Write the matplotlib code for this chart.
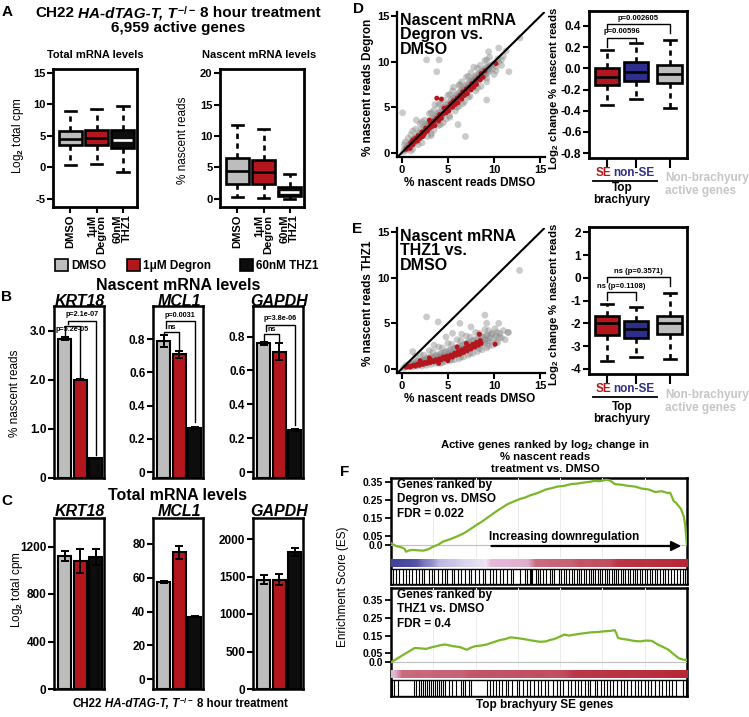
import numpy as np
import matplotlib
matplotlib.use('Agg')
import matplotlib.pyplot as plt
from matplotlib.patches import Rectangle
from matplotlib.lines import Line2D
from matplotlib.colors import LinearSegmentedColormap
from matplotlib.offsetbox import TextArea, HPacker, AnnotationBbox

plt.rcParams['font.family'] = ['Liberation Sans', 'DejaVu Sans']
plt.rcParams['font.weight'] = 'bold'
plt.rcParams['mathtext.fontset'] = 'custom'
plt.rcParams['mathtext.rm'] = 'Liberation Sans:bold'
plt.rcParams['mathtext.it'] = 'Liberation Sans:italic:bold'
plt.rcParams['mathtext.bf'] = 'Liberation Sans:bold'
plt.rcParams['axes.unicode_minus'] = False
plt.rcParams['axes.linewidth'] = 1.6
plt.rcParams['xtick.major.width'] = 1.5
plt.rcParams['ytick.major.width'] = 1.5
plt.rcParams['xtick.major.size'] = 4
plt.rcParams['ytick.major.size'] = 4
plt.rcParams['xtick.labelsize'] = 8
plt.rcParams['ytick.labelsize'] = 8
plt.rcParams['xtick.major.pad'] = 1.5
plt.rcParams['ytick.major.pad'] = 1.5

# ---------------- DATA ----------------
treatments = ['DMSO', '1\u03bcM\nDegron', '60nM\nTHZ1']
legend_names = ['DMSO', '1\u03bcM Degron', '60nM THZ1']

# Panel A box stats
total_med = [4.5, 4.7, 4.4]
total_q1 = [3.5, 3.6, 3.1]
total_q3 = [5.8, 5.9, 5.9]
total_lo = [0.3, 0.5, -0.8]
total_hi = [9.0, 9.2, 9.7]

nasc_med = [4.5, 4.3, 1.1]
nasc_q1 = [2.3, 2.3, 0.4]
nasc_q3 = [6.5, 6.2, 1.9]
nasc_lo = [0.3, 0.2, 0.0]
nasc_hi = [11.8, 11.1, 3.9]

genes = ['KRT18', 'MCL1', 'GAPDH']
# Panel B bars (% nascent reads)
nasc_krt18 = [2.83, 2.0, 0.40]
nasc_krt18_err = [0.03, 0.012, 0.01]
nasc_mcl1 = [0.79, 0.71, 0.265]
nasc_mcl1_err = [0.035, 0.02, 0.005]
nasc_gapdh = [0.76, 0.71, 0.25]
nasc_gapdh_err = [0.01, 0.05, 0.005]
pvals_krt18 = ['p=5.2e-05', 'p=2.1e-07']
pvals_mcl1 = ['ns', 'p=0.0031']
pvals_gapdh = ['ns', 'p=3.8e-06']

# Panel C bars (total cpm)
tot_krt18 = [1120, 1080, 1110]
tot_krt18_err = [40, 100, 65]
tot_mcl1 = [57.3, 75, 37]
tot_mcl1_err = [0.6, 4, 0.4]
tot_gapdh = [1460, 1460, 1830]
tot_gapdh_err = [60, 70, 50]

# Panel D / E scatter points (% nascent reads DMSO, treatment)
d_gray = [(0.2,0.1),(0.3,0.4),(0.5,0.3),(0.6,0.7),(0.8,0.5),(0.9,1.0),(1.0,0.8),(1.1,1.3),(1.2,0.9),(1.3,1.5),
          (1.4,1.1),(1.5,1.7),(1.6,1.3),(1.7,1.9),(1.8,1.5),(1.9,2.2),(2.0,1.7),(0.4,1.2),(0.7,1.6),(1.0,2.0),
          (1.5,2.6),(1.2,0.4),(1.8,0.9),(2.1,2.6),(2.2,1.9),(2.3,2.1),(2.4,2.8),(2.5,2.3),(2.6,3.0),(2.7,2.5),
          (2.8,3.2),(2.9,2.6),(3.0,3.4),(3.1,2.8),(3.2,3.6),(3.3,3.0),(3.4,3.8),(3.5,3.2),(3.6,4.0),(3.7,3.4),
          (3.8,4.2),(3.9,3.6),(4.0,4.4),(2.5,3.6),(3.0,4.3),(3.5,4.7),(2.8,1.8),(3.5,2.5),(4.0,3.0),(2.0,3.2),
          (3.2,1.9),(4.1,3.8),(4.2,4.6),(4.3,4.0),(4.4,4.8),(4.5,4.2),(4.6,5.0),(4.7,4.4),(4.8,5.2),(4.9,4.6),
          (5.0,5.4),(5.1,4.8),(5.2,5.6),(5.3,5.0),(5.4,5.8),(5.5,5.2),(5.6,6.0),(5.7,5.4),(5.8,6.2),(5.9,5.5),
          (6.0,6.4),(4.5,5.8),(5.0,6.3),(5.5,6.8),(4.5,3.3),(5.2,3.9),(5.8,4.6),(6.0,5.0),(4.0,5.3),(6.1,3.1),
          (6.9,1.8),(6.1,5.8),(6.2,6.6),(6.3,6.0),(6.4,6.8),(6.5,6.2),(6.6,7.0),(6.7,6.4),(6.8,7.2),(6.9,6.6),
          (7.0,7.4),(7.1,6.8),(7.2,7.6),(7.3,7.0),(7.4,7.8),(7.5,7.2),(7.6,8.0),(7.7,7.3),(7.8,8.2),(7.9,7.5),
          (8.0,8.4),(6.5,7.8),(7.0,8.3),(7.5,8.8),(6.8,5.6),(7.4,6.2),(8.0,6.8),(6.3,7.5),(8.1,7.8),(8.2,8.6),
          (8.3,8.0),(8.4,8.7),(8.5,8.2),(8.6,8.9),(8.7,8.3),(8.8,9.0),(8.9,8.5),(9.0,9.2),(9.1,8.6),(9.2,9.4),
          (9.3,8.8),(9.4,9.5),(9.5,9.0),(9.6,9.6),(9.8,9.2),(10.0,9.8),(10.2,9.5),(10.5,10.0),(10.8,10.2),(11.0,10.6),
          (8.5,9.6),(9.0,10.1),(9.5,10.5),(8.6,7.3),(9.2,7.8),(9.2,5.8),(10.0,8.6),(10.5,11.5),(2.7,10.2),(3.8,8.9),
          (9.4,11.1),(11.6,8.9),(0.1,4.4),(1.6,3.6),(4.05,10.2),(12.8,12.6),
          (0.5,0.5),(1.0,1.0),(1.5,1.4),(2.0,2.0),(2.5,2.5),(3.0,2.9),(3.5,3.5),(4.0,3.9),(4.5,4.5),(5.0,4.9),
          (5.5,5.5),(6.0,5.9),(6.5,6.5),(7.0,6.9),(7.5,7.5),(8.0,7.9),(8.5,8.5),(9.0,8.8),(9.5,9.4),(1.2,1.2),
          (2.2,2.2),(3.2,3.2),(4.2,4.2),(5.2,5.2),(6.2,6.2),(7.2,7.2),(8.2,8.2),(9.2,9.1),(1.7,1.6),(2.7,2.8),
          (3.7,3.7),(4.7,4.8),(5.7,5.8),(6.7,6.8),(7.7,7.8),(8.7,8.6),
          (0.8,0.9),(1.4,1.6),(2.4,2.2),(3.4,3.3),(4.4,4.3),(5.4,5.3),(6.4,6.3),(7.4,7.3),(8.4,8.3),(9.4,9.2),
          (1.9,1.9),(2.9,3.0),(3.9,4.0),(4.9,5.0),(5.9,6.0),(6.9,7.0),(7.9,8.0),(8.9,9.0),(9.9,9.7),(10.4,10.3),
          (1.2,2.4),(2.2,3.4),(3.2,4.4),(4.2,5.4),(5.2,6.4),(6.2,7.4),(7.2,8.4),(8.2,9.3),(9.2,10.2),
          (2.2,1.1),(3.2,2.1),(4.2,3.1),(5.2,4.1),(6.2,5.1),(7.2,6.1),(8.2,7.1),(9.2,8.2),(10.2,9.0),
          (0.3,0.9),(3.6,5.3),(5.6,7.2),(7.8,9.4),(1.0,0.2),(4.8,3.7),(6.6,5.4),(10.8,9.6),(11.3,11.2)]
d_red = [(0.5,0.4),(0.7,0.6),(0.9,0.5),(1.0,1.1),(1.2,0.9),(1.4,1.2),(1.5,1.6),(1.7,1.3),(1.8,1.9),(2.0,1.6),
         (2.2,2.3),(2.3,1.8),(2.5,2.2),(2.6,2.7),(2.8,2.4),(3.0,2.7),(3.1,3.3),(3.3,2.9),(3.5,3.5),(3.6,3.0),
         (3.8,3.8),(4.0,3.5),(4.1,4.2),(4.3,3.8),(4.5,4.3),(4.6,4.9),(4.8,4.4),(5.0,5.0),(5.1,4.6),(5.3,5.4),
         (5.5,5.0),(5.6,5.7),(5.8,5.3),(6.0,6.0),(6.1,5.5),(6.3,6.3),(6.5,5.9),(6.6,6.7),(6.8,6.3),(7.0,7.0),
         (7.1,6.5),(7.3,7.2),(7.5,6.9),(7.6,7.6),(7.8,7.2),(8.0,7.9),(8.1,7.5),(8.3,8.2),(8.5,8.0),(8.6,8.7),
         (8.8,8.3),(9.0,9.0),(10.2,9.8),(3.8,6.0),(4.3,5.9),(3.0,3.6),(1.2,1.4),(2.4,2.0)]
e_gray = [(0.2,0.1),(0.4,0.2),(0.5,0.4),(0.7,0.2),(0.8,0.5),(1.0,0.3),(1.1,0.6),(1.2,0.2),(1.3,0.5),(1.5,0.4),
          (1.6,0.8),(1.7,0.3),(1.8,0.6),(2.0,0.5),(2.1,0.9),(2.2,0.3),(2.3,0.7),(2.5,0.6),(2.6,1.1),(2.7,0.4),
          (2.8,0.8),(3.0,0.7),(3.1,1.3),(3.2,0.5),(3.3,0.9),(3.5,0.8),(3.6,1.4),(3.7,0.6),(3.8,1.0),(4.0,0.9),
          (4.1,1.6),(4.2,0.6),(4.3,1.2),(4.5,1.1),(4.6,1.8),(4.7,0.8),(4.8,1.3),(5.0,1.2),(5.1,2.0),(5.2,0.9),
          (5.3,1.5),(5.5,1.4),(5.6,2.2),(5.7,1.0),(5.8,1.7),(6.0,1.6),(6.1,2.4),(6.2,1.1),(6.3,1.9),(6.5,1.8),
          (6.6,2.6),(6.7,1.3),(6.8,2.1),(7.0,2.0),(7.1,2.9),(7.2,1.5),(7.3,2.3),(7.5,2.2),(7.6,3.1),(7.7,1.7),
          (7.8,2.5),(8.0,2.4),(8.1,3.3),(8.2,1.9),(8.3,2.7),(8.5,2.6),(8.6,3.5),(8.7,2.1),(8.8,2.9),(9.0,2.8),
          (9.1,3.6),(9.2,2.3),(9.3,3.1),(9.5,3.0),(9.7,3.8),(9.8,2.6),(10.0,3.3),(10.2,3.6),(10.4,2.9),(10.6,3.9),
          (10.8,3.4),(11.0,4.2),(11.5,4.0),(11.2,3.2),(1.5,1.4),(2.0,1.6),(3.0,2.0),(4.0,2.4),(5.0,2.8),(6.0,3.2),
          (7.0,3.6),(8.0,4.0),(9.0,4.3),(3.5,2.6),(6.5,3.8),(12.75,10.8),(2.7,5.7),(3.95,5.15),(6.3,5.0),(9.0,5.9),
          (9.2,5.0),(11.55,4.0),(1.2,1.9),(7.5,4.6),(5.5,3.9),(4.8,3.5),(10.5,5.0),
          (1.0,0.4),(2.0,0.7),(3.0,1.0),(4.0,1.3),(5.0,1.6),(6.0,2.0),(7.0,2.4),(8.0,2.8),(9.0,3.2),(1.5,0.55),
          (2.5,0.85),(3.5,1.15),(4.5,1.45),(5.5,1.8),(6.5,2.2),(7.5,2.6),(8.5,3.0),(9.5,3.4),
          (1.3,0.7),(2.3,1.0),(3.3,1.3),(4.3,1.7),(5.3,2.1),(6.3,2.5),(7.3,2.9),(8.3,3.3),(9.3,3.7),(10.3,4.0),
          (1.8,0.9),(2.8,1.2),(3.8,1.5),(4.8,1.9),(5.8,2.3),(6.8,2.7),(7.8,3.1),(8.8,3.5),(9.8,3.9),(10.6,3.5),
          (2.4,1.5),(3.4,1.9),(4.4,2.3),(5.4,2.7),(6.4,3.1),(7.4,3.5),(8.4,3.9),(9.4,4.2),(10.1,4.4),
          (4.4,0.7),(5.4,1.0),(6.4,1.3),(7.4,1.7),(8.4,2.2),(9.4,2.5),(10.2,2.9)]
e_red = [(0.5,0.2),(0.7,0.3),(0.9,0.2),(1.1,0.3),(1.3,0.4),(1.5,0.3),(1.7,0.5),(1.9,0.4),(2.1,0.6),(2.3,0.5),
         (2.5,0.7),(2.7,0.6),(2.9,0.8),(3.1,0.7),(3.3,0.9),(3.5,0.8),(3.7,1.0),(3.9,0.9),(4.1,1.1),(4.3,1.0),
         (4.5,1.3),(4.7,1.1),(4.9,1.4),(5.1,1.2),(5.3,1.5),(5.5,1.3),(5.7,1.7),(5.9,1.5),(6.1,1.9),(6.3,1.6),
         (6.5,2.1),(6.7,1.8),(6.9,2.3),(7.1,2.0),(7.3,2.5),(7.5,2.2),(7.7,2.7),(7.9,2.4),(8.1,2.9),(8.3,2.6),
         (8.4,3.8),(8.5,3.1),(8.6,2.8),(10.1,2.7),(2.0,0.9),(3.0,1.2),(6.0,2.4),(7.0,2.8),(5.0,0.9),(4.0,0.6)]

# Panel D / E box stats (log2 change % nascent reads)
groups_de = ['SE', 'non-SE', 'Non-brachyury\nactive genes']
d_med = [-0.08, -0.035, -0.05]
d_q1 = [-0.153, -0.12, -0.14]
d_q3 = [0.0, 0.06, 0.035]
d_lo = [-0.35, -0.285, -0.37]
d_hi = [0.175, 0.24, 0.27]
d_pvals = ['p=0.00596', 'p=0.002605']
e_med = [-1.99, -2.24, -1.99]
e_q1 = [-2.49, -2.65, -2.46]
e_q3 = [-1.68, -1.91, -1.68]
e_lo = [-3.63, -3.49, -3.56]
e_hi = [-1.13, -1.28, -0.66]
e_pvals = ['ns (p=0.1108)', 'ns (p=0.3571)']

# Panel F running enrichment scores
es1_x = [0.0,0.017,0.034,0.045,0.051,0.062,0.074,0.09,0.108,0.125,0.142,0.16,0.176,0.2,0.222,0.24,0.256,0.273,0.29,0.307,
         0.324,0.341,0.358,0.375,0.392,0.415,0.4375,0.455,0.47,0.495,0.523,0.54,0.5625,0.585,0.608,0.63,0.653,0.67,0.6875,0.705,
         0.727,0.74,0.756,0.78,0.801,0.825,0.847,0.87,0.892,0.915,0.935,0.943,0.949,0.955,0.963,0.972,0.98,0.989,0.994,0.997,1.0]
es1_y = [0.01,-0.006,-0.013,-0.02,-0.038,-0.03,-0.028,-0.03,-0.032,-0.025,-0.01,0.002,0.019,0.032,0.047,0.06,0.075,0.094,0.113,0.13,
         0.15,0.17,0.19,0.208,0.226,0.243,0.258,0.266,0.277,0.29,0.31,0.316,0.326,0.33,0.34,0.343,0.349,0.352,0.358,0.356,
         0.364,0.36,0.34,0.336,0.33,0.326,0.315,0.31,0.296,0.3,0.29,0.292,0.27,0.245,0.235,0.217,0.2,0.16,0.11,0.047,0.0]
es2_x = [0.0,0.02,0.04,0.06,0.08,0.1,0.119,0.135,0.153,0.168,0.182,0.196,0.21,0.233,0.256,0.27,0.284,0.305,0.324,0.345,
         0.369,0.386,0.403,0.425,0.449,0.466,0.483,0.503,0.523,0.537,0.551,0.568,0.585,0.602,0.619,0.648,0.676,0.699,0.722,0.74,
         0.756,0.762,0.767,0.785,0.801,0.82,0.841,0.862,0.881,0.903,0.92,0.9375,0.955,0.972,0.986,1.0]
es2_y = [0.0,0.02,0.04,0.06,0.08,0.078,0.075,0.083,0.09,0.096,0.1,0.095,0.09,0.085,0.07,0.082,0.09,0.094,0.1,0.112,
         0.125,0.13,0.14,0.136,0.13,0.125,0.12,0.115,0.117,0.125,0.13,0.142,0.155,0.15,0.155,0.162,0.168,0.17,0.174,0.176,
         0.18,0.16,0.136,0.13,0.126,0.12,0.117,0.122,0.12,0.098,0.085,0.07,0.045,0.023,0.015,0.013]
rank_metric_1 = [-0.95,-0.92,-0.9,-0.85,-0.65,-0.55,-0.35,-0.3,-0.28,-0.22,-0.18,-0.12,-0.05,0.18,0.2,0.2,0.22,0.22,0.25,0.55,
                 0.55,0.58,0.6,0.6,0.62,0.7,0.68,0.72,0.7,0.72,0.85,0.88,0.88,0.9,0.88,0.9,0.92,0.92,0.95,0.95]
rank_metric_2 = [0.2,0.55,0.55,0.58,0.56,0.58,0.6,0.58,0.6,0.6,0.66,0.68,0.68,0.7,0.68,0.7,0.7,0.72,0.7,0.72,
                 0.72,0.7,0.72,0.74,0.85,0.86,0.86,0.88,0.86,0.88,0.88,0.9,0.88,0.9,0.9,0.92,0.92,0.94,0.95,0.95]
hits_1 = [0.006,0.018,0.027,0.04,0.052,0.061,0.07,0.083,0.095,0.104,0.112,0.128,0.137,0.146,0.16,0.171,0.183,0.19,0.205,0.214,
          0.228,0.236,0.251,0.262,0.27,0.285,0.297,0.31,0.318,0.333,0.346,0.355,0.369,0.378,0.392,0.404,0.413,0.437,0.452,0.46,
          0.468,0.472,0.478,0.489,0.497,0.505,0.514,0.522,0.536,0.545,0.551,0.566,0.574,0.583,0.591,0.6,0.612,0.619,0.627,0.636,
          0.641,0.652,0.66,0.668,0.676,0.683,0.69,0.698,0.707,0.713,0.722,0.73,0.737,0.745,0.752,0.761,0.768,0.776,0.784,0.79,
          0.799,0.808,0.816,0.823,0.832,0.84,0.848,0.857,0.866,0.874,0.883,0.892,0.9,0.91,0.918,0.927,0.937,0.946,0.955,0.965,
          0.975,0.985,0.994]
hits_2 = [0.004,0.011,0.024,0.078,0.086,0.093,0.1,0.108,0.114,0.121,0.127,0.134,0.141,0.148,0.155,0.163,0.17,0.177,0.184,0.195,
          0.207,0.221,0.236,0.243,0.25,0.262,0.27,0.325,0.334,0.346,0.355,0.366,0.374,0.388,0.396,0.41,0.425,0.434,0.447,0.458,
          0.47,0.482,0.496,0.506,0.52,0.531,0.548,0.56,0.571,0.582,0.598,0.607,0.62,0.632,0.641,0.655,0.664,0.672,0.688,0.697,
          0.708,0.72,0.73,0.741,0.75,0.762,0.776,0.788,0.797,0.81,0.824,0.836,0.845,0.857,0.869,0.88,0.893,0.904,0.916,0.928,
          0.94,0.951,0.962,0.985,0.997]

# ---------------- STYLE ----------------
GRAY = '#BDBDBD'
RED = '#B3171D'
BLACK = '#0D0D0D'
BLUE = '#2E2E8C'
GREEN = '#7BB829'
LIGHT = '#C6C6C6'
tcolors = [GRAY, RED, BLACK]

W, H = 749, 717
fig = plt.figure(figsize=(W / 100, H / 100), dpi=100)
fig.patch.set_facecolor('white')


def add_ax(x0, y0, x1, y1):
    return fig.add_axes([x0 / W, 1 - y1 / H, (x1 - x0) / W, (y1 - y0) / H])


def T(x, y, s, **kw):
    kw.setdefault('ha', 'center')
    kw.setdefault('va', 'center')
    return fig.text(x / W, 1 - y / H, s, **kw)


def fig_line(x0, x1, y, lw=1.3, color='k'):
    fig.add_artist(Line2D([x0 / W, x1 / W], [1 - y / H, 1 - y / H], transform=fig.transFigure,
                          color=color, lw=lw))


def draw_box(ax, med, q1, q3, lo, hi, positions, width, faces, medcols, lw=1.9):
    stats = [dict(med=m, q1=a, q3=b, whislo=l, whishi=h) for m, a, b, l, h in zip(med, q1, q3, lo, hi)]
    bp = ax.bxp(stats, positions=positions, widths=width, patch_artist=True, showfliers=False,
                boxprops=dict(linewidth=lw, edgecolor='k'),
                whiskerprops=dict(linewidth=lw, linestyle=(0, (2.0, 1.7)), color='k'),
                capprops=dict(linewidth=lw, color='k'),
                medianprops=dict(linewidth=lw))
    for p, c in zip(bp['boxes'], faces):
        p.set_facecolor(c)
    for m, c in zip(bp['medians'], medcols):
        m.set_color(c)
        if c == 'white':
            xd = m.get_xdata()
            m.set_xdata([xd[0] + 0.08, xd[1] - 0.08])
    return bp


def bracket(ax, x1, x2, y, y1, y2, label, ty, fs=5.2):
    ax.plot([x1, x1, x2, x2], [y1, y, y, y2], color='k', lw=1.0, clip_on=False)
    ax.text((x1 + x2) / 2, ty, label, ha='center', va='center', fontsize=fs)


def mixed_title(x, y, size):
    part1 = TextArea('CH22', textprops=dict(fontsize=size, fontweight='bold'))
    part2 = TextArea('HA-dTAG-T, T', textprops=dict(fontsize=size, fontweight='bold', fontstyle='italic'))
    sup = TextArea(r'$^{-/-}$', textprops=dict(fontsize=size))
    grp = HPacker(children=[part2, sup], align='baseline', pad=0, sep=0)
    part3 = TextArea('8 hour treatment', textprops=dict(fontsize=size, fontweight='bold'))
    box = HPacker(children=[part1, grp, part3], align='baseline', pad=0, sep=size * 0.28)
    ab = AnnotationBbox(box, (x / W, 1 - y / H), xycoords='figure fraction', frameon=False,
                        box_alignment=(0.5, 0.5), pad=0)
    fig.add_artist(ab)


# ---------------- PANEL A ----------------
T(7, 12, 'A', fontsize=11)
mixed_title(178, 13, 11)
T(178, 28, '6,959 active genes', fontsize=11)
T(95, 55, 'Total mRNA levels', fontsize=8)
T(259, 55, 'Nascent mRNA levels', fontsize=8)

axA1 = add_ax(53, 69, 137, 207)
draw_box(axA1, total_med, total_q1, total_q3, total_lo, total_hi, [1, 2, 3], 0.9, tcolors, ['k', 'k', 'white'])
axA1.set_xlim(0.33, 3.55)
axA1.set_ylim(-6.3, 15.6)
axA1.set_yticks([-5, 0, 5, 10, 15])
axA2 = add_ax(220, 69, 304, 207)
draw_box(axA2, nasc_med, nasc_q1, nasc_q3, nasc_lo, nasc_hi, [1, 2, 3], 0.88, tcolors, ['k', 'k', 'white'])
axA2.set_xlim(0.33, 3.55)
axA2.set_ylim(-1.3, 20.7)
axA2.set_yticks([0, 5, 10, 15, 20])
for ax in (axA1, axA2):
    for s in ax.spines.values():
        s.set_linewidth(2)
    ax.set_xticks([1, 2, 3])
    ax.set_xticklabels(treatments, rotation=90, ha='center', va='top', multialignment='right',
                       fontsize=8, linespacing=0.9)
T(18, 136, 'Log$_2$ total cpm', rotation=90, fontsize=8.5, fontweight='normal')
T(183, 140, '% nascent reads', rotation=90, fontsize=8.5, fontweight='normal')

# legend
leg_x = [55, 127, 240]
for lx, c, name in zip(leg_x, tcolors, legend_names):
    fig.add_artist(Rectangle((lx / W, 1 - 271 / H), 13 / W, 12 / H, transform=fig.transFigure,
                             facecolor=c, edgecolor='k', lw=1.2))
    T(lx + 16, 265.5, name, ha='left', fontsize=8.5)

# ---------------- PANEL B ----------------
T(7, 297, 'B', fontsize=11)
T(178, 285, 'Nascent mRNA levels', fontsize=11.5)
B_x = [(54, 104), (153, 203), (253, 303)]
nasc_vals = [nasc_krt18, nasc_mcl1, nasc_gapdh]
nasc_errs = [nasc_krt18_err, nasc_mcl1_err, nasc_gapdh_err]
nasc_p = [pvals_krt18, pvals_mcl1, pvals_gapdh]
B_ylims = [(0, 3.5), (-0.035, 1.0), (-0.035, 0.98)]
B_ticks = [([0, 1, 2, 3], ['0', '1.0', '2.0', '3.0']),
           ([0, 0.2, 0.4, 0.6, 0.8], ['0', '0.2', '0.4', '0.6', '0.8']),
           ([0, 0.2, 0.4, 0.6, 0.8], ['0', '0.2', '0.4', '0.6', '0.8'])]
B_brackets = [
    [(1.0, 2.0, 3.1, 2.9, 2.06, 3.02), (1.2, 3.0, 3.2, 3.13, 0.47, 3.33)],
    [(1.0, 2.0, 0.845, 0.83, 0.74, 0.872), (1.15, 3.0, 0.91, 0.87, 0.3, 0.945)],
    [(1.0, 2.0, 0.815, 0.78, 0.77, 0.84), (1.15, 3.0, 0.87, 0.83, 0.28, 0.905)],
]


def bar_panel(ax, vals, errs, ylim):
    x = np.arange(1, 4)
    base = ylim[0]
    ax.bar(x, np.array(vals) - base, bottom=base, width=0.86, color=tcolors, edgecolor='k', lw=1.5)
    ax.errorbar(x, vals, yerr=errs, fmt='none', ecolor='k', elinewidth=1.4, capsize=3, capthick=1.4)
    ax.set_xlim(0.3, 3.55)
    ax.set_ylim(*ylim)
    ax.set_xticks([])
    ax.tick_params(axis='y', labelsize=8.5)
    for s in ax.spines.values():
        s.set_linewidth(1.8)


for i in range(3):
    ax = add_ax(B_x[i][0], 306, B_x[i][1], 478)
    bar_panel(ax, nasc_vals[i], nasc_errs[i], B_ylims[i])
    ax.set_yticks(B_ticks[i][0])
    ax.set_yticklabels(B_ticks[i][1])
    for (x1, x2, yl, y1, y2, ty), lab in zip(B_brackets[i], nasc_p[i]):
        bracket(ax, x1, x2, yl, y1, y2, lab, ty)
    T((B_x[i][0] + B_x[i][1]) / 2 + 1, 301, genes[i], fontsize=11.5, fontstyle='italic')
T(15, 393, '% nascent reads', rotation=90, fontsize=8.5, fontweight='normal')

# ---------------- PANEL C ----------------
T(7, 501, 'C', fontsize=11)
T(178, 495, 'Total mRNA levels', fontsize=11.5)
tot_vals = [tot_krt18, tot_mcl1, tot_gapdh]
tot_errs = [tot_krt18_err, tot_mcl1_err, tot_gapdh_err]
C_ylims = [(0, 1440), (-5.9, 95.4), (0, 2280)]
C_ticks = [[0, 400, 800, 1200], [0, 20, 40, 60, 80], [0, 500, 1000, 1500, 2000]]
for i in range(3):
    ax = add_ax(B_x[i][0], 518, B_x[i][1], 689)
    bar_panel(ax, tot_vals[i], tot_errs[i], C_ylims[i])
    ax.set_yticks(C_ticks[i])
    T((B_x[i][0] + B_x[i][1]) / 2 + 1, 512, genes[i], fontsize=11.5, fontstyle='italic')
T(17, 590, 'Log$_2$ total cpm', rotation=90, fontsize=8.5, fontweight='normal')
mixed_title(180, 704, 8.3)

# ---------------- PANELS D & E ----------------
T(358, 9, 'D', fontsize=11)
T(357, 229, 'E', fontsize=11)


def scatter_panel(y0, gray, red, label, ylab):
    ax = add_ax(397, y0, 545, y0 + 145)
    gx, gy = zip(*gray)
    rx, ry = zip(*red)
    ax.scatter(gx, gy, s=24, c='#858585', alpha=0.42, edgecolors='none', zorder=1)
    ax.scatter(rx, ry, s=13, c=RED, edgecolors='none', zorder=2)
    ax.axline((0, 0), (1, 1), color='k', lw=1.5, zorder=3)
    ax.set_xlim(-0.5, 15.5)
    ax.set_ylim(-0.45, 15.45)
    ax.set_xticks([0, 5, 10, 15])
    ax.set_yticks([0, 5, 10, 15])
    ax.spines['top'].set_visible(False)
    ax.spines['right'].set_visible(False)
    ax.text(0.02, 0.995, label, transform=ax.transAxes, ha='left', va='top', fontsize=11.5,
            linespacing=0.95, zorder=4)
    T(368, y0 + 75, ylab, rotation=90, fontsize=8.5)
    T(470, y0 + 171, '% nascent reads DMSO', fontsize=8.5)


scatter_panel(12, d_gray, d_red, 'Nascent mRNA\nDegron vs.\nDMSO', '% nascent reads Degron')
scatter_panel(228, e_gray, e_red, 'Nascent mRNA\nTHZ1 vs.\nDMSO', '% nascent reads THZ1')

pos_de = [1, 2, 3.17]


def de_box(y0, y1, med, q1, q3, lo, hi, ylim, ticks, ticklabels, brks, pv, ytxt):
    ax = add_ax(589, y0, 687, y1)
    draw_box(ax, med, q1, q3, lo, hi, pos_de, 0.86, [RED, BLUE, GRAY], ['k', 'k', 'k'])
    ax.set_xlim(0.38, 3.76)
    ax.set_ylim(*ylim)
    ax.set_yticks(ticks)
    ax.set_yticklabels(ticklabels)
    ax.set_xticks(pos_de)
    ax.set_xticklabels(['', '', ''])
    ax.tick_params(axis='x', length=7)
    ax.tick_params(axis='y', labelsize=8.5)
    for s in ax.spines.values():
        s.set_linewidth(2)
    for (x1, x2, yl, ya, yb, ty), lab in zip(brks, pv):
        bracket(ax, x1, x2, yl, ya, yb, lab, ty, fs=5.5)
    T(554, y0 + 77, 'Log$_2$ change % nascent reads', rotation=90, fontsize=8.2)
    ys, yu, yt1, yt2, yn1, yn2 = ytxt
    T(603, ys, groups_de[0], color=RED, fontsize=8.5)
    T(634, ys, groups_de[1], color=BLUE, fontsize=8.5)
    fig_line(593, 657, yu, lw=1.3)
    T(622, yt1, 'Top', fontsize=8.5)
    T(622, yt2, 'brachyury', fontsize=8.5)
    nb1, nb2 = groups_de[2].split('\n')
    T(665, yn1, nb1, ha='left', color=LIGHT, fontsize=8.5)
    T(665, yn2, nb2, ha='left', color=LIGHT, fontsize=8.5)


de_box(11, 158, d_med, d_q1, d_q3, d_lo, d_hi, (-0.845, 0.54),
       [0.4, 0.2, 0.0, -0.2, -0.4, -0.6, -0.8], ['0.4', '0.2', '0.0', '-0.2', '-0.4', '-0.6', '-0.8'],
       [(1, 2, 0.285, 0.2, 0.26, 0.345), (1, 3.17, 0.42, 0.38, 0.33, 0.47)], d_pvals,
       (173, 180.5, 188, 200, 178, 191))
de_box(227, 374, e_med, e_q1, e_q3, e_lo, e_hi, (-4.22, 2.23),
       [2, 1, 0, -1, -2, -3, -4], ['2', '1', '0', '-1', '-2', '-3', '-4'],
       [(1, 2, -0.62, -0.99, -0.99, -0.37), (1, 3.17, 0.04, -0.17, -0.37, 0.26)], e_pvals,
       (389, 397, 407, 419, 395, 408))

# ---------------- PANEL F ----------------
T(345, 472, 'F', fontsize=11)
T(545, 444.5, 'Active genes ranked by log$_2$ change in', fontsize=8.2)
T(545, 457.5, '% nascent reads', fontsize=8.2)
T(545, 469.5, 'treatment vs. DMSO', fontsize=8.2)
T(343, 587, 'Enrichment Score (ES)', rotation=90, fontsize=8.5, fontweight='normal')
T(545, 705, 'Top brachyury SE genes', fontsize=8.5)

rank_cmap = LinearSegmentedColormap.from_list('rank', [(0, '#3A3A96'), (0.25, '#9C98D0'), (0.4, '#DAD6EE'),
                                                       (0.5, '#F2E8F2'), (0.6, '#E4B6D6'), (0.78, '#C96A7C'),
                                                       (1, '#B42030')])


def gsea_panel(top, line_bot, cb0, cb1, bc0, bc1, bot, xs, ys, ylim, metric, hits, label, arrow=False):
    frame = add_ax(391, top, 687, bot)
    frame.set_xticks([])
    frame.set_yticks([])
    for s in frame.spines.values():
        s.set_linewidth(1.8)
    ax = add_ax(391, top, 687, line_bot)
    ax.patch.set_alpha(0)
    for s in ax.spines.values():
        s.set_visible(False)
    for g in [1 / 7, 2 / 7, 3 / 7, 4 / 7, 5 / 7, 6 / 7]:
        ax.axvline(g, color='#ebebeb', lw=0.7, zorder=0)
    ax.axhline(0, color='#c0c0c0', lw=0.8, zorder=0)
    ax.plot(xs, ys, color=GREEN, lw=1.6, zorder=2)
    ax.set_xlim(0, 1)
    ax.set_ylim(*ylim)
    ax.set_xticks([])
    ax.set_yticks([0.35, 0.25, 0.15, 0.05, 0.0])
    ax.set_yticklabels(['0.35', '0.25', '0.15', '0.05', '0.0'])
    ax.tick_params(axis='y', labelsize=7.5, length=4, width=1.3)
    ax.text(0.02, 0.985, label, transform=ax.transAxes, ha='left', va='top', fontsize=8.5, linespacing=1.25)
    if arrow:
        ax.annotate('', xy=(0.99, 0.15), xytext=(0.33, 0.15), xycoords='axes fraction',
                    arrowprops=dict(arrowstyle='-|>', lw=1.6, color='k', mutation_scale=14))
        ax.text(0.33, 0.26, 'Increasing downregulation', transform=ax.transAxes, ha='left', va='center',
                fontsize=8.5)
    cb = add_ax(391, cb0, 687, cb1)
    cb.imshow(np.array(metric)[None, :], aspect='auto', cmap=rank_cmap, vmin=-1, vmax=1,
              extent=(0, 1, 0, 1), interpolation='bilinear')
    cb.set_xticks([])
    cb.set_yticks([])
    for s in cb.spines.values():
        s.set_visible(False)
    bc = add_ax(391, bc0, 687, bc1)
    bc.vlines(hits, 0, 1, color='k', lw=0.8)
    bc.set_xlim(0, 1)
    bc.set_ylim(0, 1)
    bc.set_xticks([])
    bc.set_yticks([])
    for s in bc.spines.values():
        s.set_linewidth(1.0)


gsea_panel(478, 558, 559, 567, 569, 584, 584, es1_x, es1_y, (-0.073, 0.374), rank_metric_1, hits_1,
           'Genes ranked by\nDegron vs. DMSO\nFDR = 0.022', arrow=True)
gsea_panel(588, 669, 670, 678, 680, 696, 696, es2_x, es2_y, (-0.038, 0.417), rank_metric_2, hits_2,
           'Genes ranked by\nTHZ1 vs. DMSO\nFDR = 0.4')

fig.savefig('out.png', dpi=100, facecolor='white')
